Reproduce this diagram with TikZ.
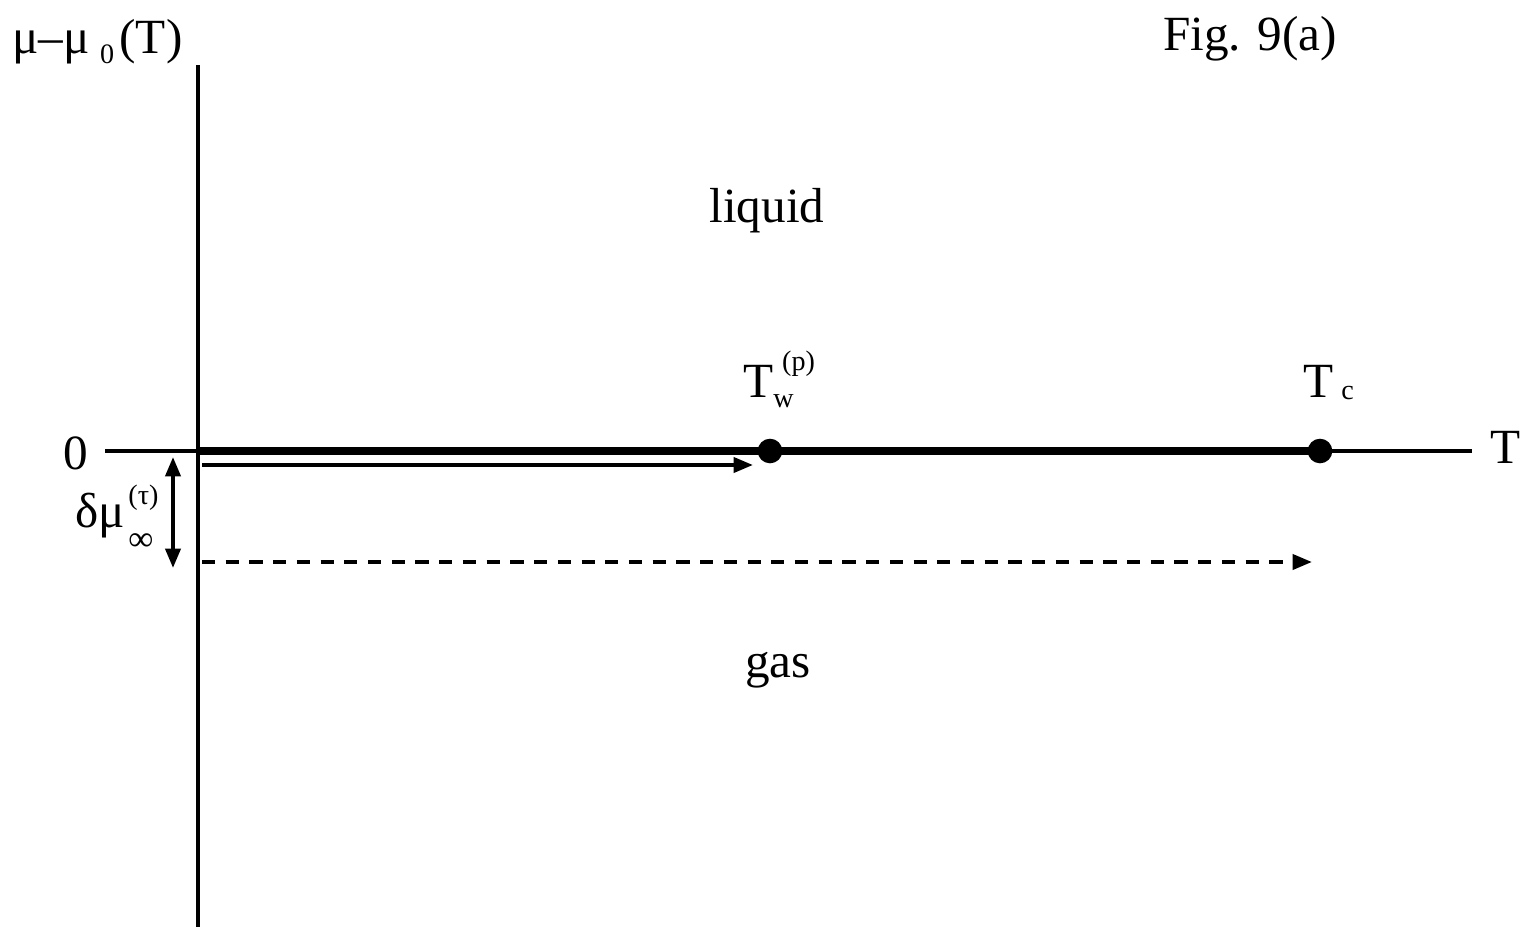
\documentclass[tikz,border=0pt]{standalone}
\usepackage{fontspec}
\setmainfont{Liberation Serif}
\usetikzlibrary{arrows.meta}

\newcommand{\lblf}{\fontsize{28}{34}\selectfont}
\newcommand{\supf}{\fontsize{16}{19}\selectfont}

\tikzset{
  axis/.style={line width=2.2pt},
  phase/.style={line width=5pt},
  path arrow/.style={line width=2.2pt, -{Triangle[length=11pt,width=8.5pt]}},
  both arrow/.style={line width=2.2pt, {Triangle[length=11pt,width=8.5pt]}-{Triangle[length=11pt,width=8.5pt]}},
  dot/.style={circle, fill=black, inner sep=0pt, minimum size=14pt},
  lbl/.style={inner sep=0pt, font=\lblf},
}

\begin{document}
\begin{tikzpicture}[x=0.02cm, y=-0.02cm]
\useasboundingbox (0,0) rectangle (1526,927);

% axes
\coordinate (ybot) at (198,927);
\coordinate (ytop) at (198,65);
\coordinate (xleft) at (105,451);
\coordinate (xright) at (1472,451);
\coordinate (orig) at (198,451);
\draw[axis] (ybot) -- (ytop);
\draw[axis] (xleft) -- (xright);

% coexistence line and points
\node[dot] (tw) at (770,451) {};
\node[dot] (tc) at (1320,451) {};
\draw[phase] (orig) -- (tc.center);

% paths
\coordinate (p1s) at (202,465);
\coordinate (p1e) at (753,465);
\coordinate (p2s) at (202,562);
\coordinate (p2e) at (1312,562);
\draw[path arrow] (p1s) -- (p1e);
\draw[path arrow, dash pattern=on 7.5pt off 6pt] (p2s) -- (p2e);
\coordinate (dtop) at (173,457);
\coordinate (dbot) at (173,568);
\draw[both arrow] (dtop) -- (dbot);

% labels
\node[lbl, anchor=base west] (ylab) at (12,53) {μ–μ\hspace{6pt}\raisebox{-5.7pt}{\supf 0}\hspace{3pt}(T)};
\node[lbl, anchor=base west] (xlab) at (1490,463) {T};
\node[lbl, anchor=base west] (zero) at (63,469) {0};
\node[lbl, anchor=base west] (fig) at (1163,50) {Fig. 9(a)};
\node[lbl, anchor=base] (liq) at (767,222) {liquid};
\node[lbl, anchor=base] (gas) at (778,677) {gas};
\node[lbl, anchor=base west] (twlab) at (743,397) {T\rlap{\hspace{5pt}\raisebox{15pt}{\supf(p)}}\raisebox{-6pt}{\supf w}};
\node[lbl, anchor=base west] (tclab) at (1303,397) {T\hspace{4.5pt}\raisebox{-1.7pt}{\supf c}};
\node[lbl, anchor=base west] (dmu) at (75,527) {δμ\hspace{2pt}\rlap{\raisebox{13pt}{\supf(τ)}}\raisebox{-13.5pt}{\fontsize{20}{20}\selectfont ∞}};
\end{tikzpicture}
\end{document}
